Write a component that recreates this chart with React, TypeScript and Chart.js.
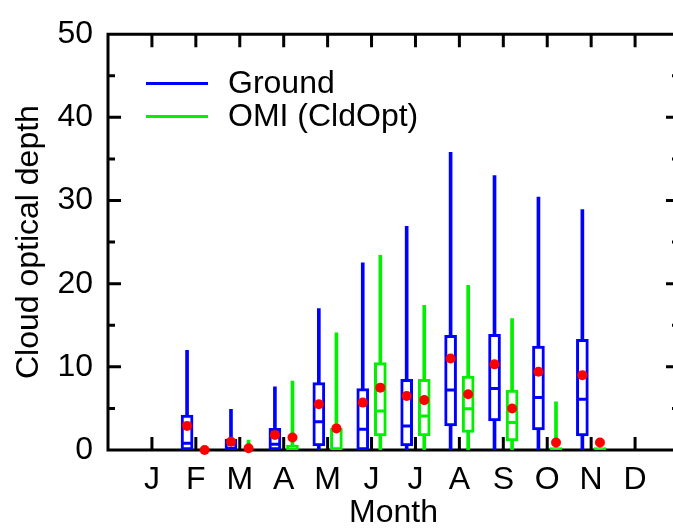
import React, { useEffect, useRef } from 'react';
import { Chart, registerables } from 'chart.js';

Chart.register(...registerables);

const months = ['J', 'F', 'M', 'A', 'M', 'J', 'J', 'A', 'S', 'O', 'N', 'D'];
const yTicks = [0, 10, 20, 30, 40, 50];

// Ground (blue) statistics per month (null = no data)
const groundMin = [null, 0, 0, 0, 0, 0, 0, 0, 0, 0, 0, null];
const groundQ1 = [null, 0, 0, 0, 0.5, 0, 0.5, 2.9, 3.5, 2.4, 1.7, null];
const groundMedian = [null, 0.8, 0.2, 0.7, 3.4, 2.5, 2.9, 7.2, 7.4, 6.3, 6.1, null];
const groundQ3 = [null, 4.2, 1.3, 2.6, 8.1, 7.4, 8.5, 13.8, 13.9, 12.5, 13.3, null];
const groundMax = [null, 12.0, 4.9, 7.6, 17.0, 22.5, 26.9, 35.8, 33.0, 30.4, 28.9, null];
const groundMean = [null, 2.9, 1.0, 1.8, 5.5, 5.7, 6.5, 11.0, 10.3, 9.4, 9.0, null];

// OMI (CldOpt) (green) statistics per month
const omiMin = [null, 0, 0, 0, 0, 0, 0, 0, 0, 0, 0, null];
const omiQ1 = [null, 0, 0, 0, 0, 1.7, 1.7, 2.1, 1.1, 0, 0, null];
const omiMedian = [null, 0, 0, 0, 0, 4.7, 4.1, 4.95, 3.3, 0, 0, null];
const omiQ3 = [null, 0, 0, 0.6, 2.6, 10.5, 8.5, 8.9, 7.2, 0.3, 0.3, null];
const omiMax = [null, 0, 1.2, 8.3, 14.1, 23.4, 17.4, 19.8, 15.8, 5.8, 0.3, null];
const omiMean = [null, 0.0, 0.2, 1.5, 2.6, 7.5, 6.0, 6.7, 5.0, 0.9, 0.9, null];

const BLUE = '#0000ff';
const GREEN = '#00f000';
const RED = '#ff0000';
const FONT = '"Liberation Sans", Arial, Helvetica, sans-serif';

const offsetGround = -0.2;
const offsetOmi = 0.2;

function floatData(lo: (number | null)[], hi: (number | null)[], off: number) {
  const out: any[] = [];
  lo.forEach((v, i) => {
    const h = hi[i];
    if (v === null || h === null) return;
    out.push({ x: i + 1 + off, y: [v, h] });
  });
  return out;
}

function pointData(vals: (number | null)[], off: number) {
  const out: any[] = [];
  vals.forEach((v, i) => {
    if (v === null) return;
    out.push({ x: i + 1 + off, y: v });
  });
  return out;
}

const framePlugin = {
  id: 'frame',
  beforeDatasetsDraw(chart: any) {
    const { ctx, chartArea } = chart;
    const x = chart.scales.x;
    const y = chart.scales.y;
    const l = chartArea.left, r = chartArea.right, t = chartArea.top, b = chartArea.bottom;
    ctx.save();
    ctx.strokeStyle = '#000';
    ctx.lineWidth = 3;
    ctx.lineCap = 'butt';
    ctx.beginPath();
    ctx.moveTo(l, t);
    ctx.lineTo(r, t);
    ctx.lineTo(r, b);
    ctx.lineTo(l, b);
    ctx.closePath();
    ctx.stroke();
    ctx.beginPath();
    months.forEach((_, i) => {
      const px = x.getPixelForValue(i + 1);
      ctx.moveTo(px, b);
      ctx.lineTo(px, b - 13);
      ctx.moveTo(px, t);
      ctx.lineTo(px, t + 13);
    });
    for (let v = 5; v < 50; v += 5) {
      const py = y.getPixelForValue(v);
      const len = v % 10 === 0 ? 13 : 7;
      ctx.moveTo(l, py);
      ctx.lineTo(l + len, py);
      ctx.moveTo(r, py);
      ctx.lineTo(r - len, py);
    }
    ctx.stroke();
    ctx.restore();
  },
  afterDatasetsDraw(chart: any) {
    const { ctx } = chart;
    ctx.save();
    ctx.lineWidth = 3;
    const items = [
      { label: 'Ground', color: BLUE, y: 83.5 },
      { label: 'OMI (CldOpt)', color: GREEN, y: 116.5 },
    ];
    ctx.font = `32px ${FONT}`;
    ctx.textBaseline = 'middle';
    ctx.textAlign = 'left';
    items.forEach((it) => {
      ctx.strokeStyle = it.color;
      ctx.beginPath();
      ctx.moveTo(146, it.y);
      ctx.lineTo(208, it.y);
      ctx.stroke();
      ctx.fillStyle = '#000';
      ctx.fillText(it.label, 228, it.y + 1);
    });
    ctx.restore();
  },
};

export default function App() {
  const ref = useRef<HTMLCanvasElement | null>(null);
  useEffect(() => {
    if (!ref.current) return;
    const whisker = (lo: any, hi: any, off: number, color: string) => ({
      type: 'bar' as const,
      data: floatData(lo, hi, off),
      backgroundColor: color,
      borderWidth: 0,
      barThickness: 3,
      grouped: false,
      order: 4,
    });
    const box = (lo: any, hi: any, off: number, color: string) => ({
      type: 'bar' as const,
      data: floatData(lo, hi, off),
      backgroundColor: '#ffffff',
      borderColor: color,
      borderWidth: 3,
      borderSkipped: false,
      barThickness: 12,
      grouped: false,
      order: 3,
    });
    const median = (vals: any, off: number, color: string) => ({
      type: 'line' as const,
      data: pointData(vals, off),
      showLine: false,
      pointStyle: 'line',
      pointRadius: 4.5,
      pointBorderColor: color,
      pointBorderWidth: 3,
      order: 2,
    });
    const mean = (vals: any, off: number) => ({
      type: 'line' as const,
      data: pointData(vals, off),
      showLine: false,
      pointStyle: 'circle',
      pointRadius: 5,
      pointBackgroundColor: RED,
      pointBorderWidth: 0,
      clip: false,
      order: 1,
    });
    const chart = new Chart(ref.current, {
      type: 'bar',
      data: {
        datasets: [
          whisker(groundMin, groundMax, offsetGround, BLUE),
          whisker(omiMin, omiMax, offsetOmi, GREEN),
          box(groundQ1, groundQ3, offsetGround, BLUE),
          box(omiQ1, omiQ3, offsetOmi, GREEN),
          median(groundMedian, offsetGround, BLUE),
          median(omiMedian, offsetOmi, GREEN),
          mean(groundMean, offsetGround),
          mean(omiMean, offsetOmi),
        ] as any,
      },
      options: {
        responsive: false,
        animation: false,
        layout: { padding: { left: 0, right: 11, top: 23, bottom: 0 } },
        plugins: { legend: { display: false }, tooltip: { enabled: false } },
        scales: {
          x: {
            type: 'linear',
            min: 0,
            max: 13,
            offset: false,
            grid: { display: false, drawTicks: false },
            border: { display: false },
            afterBuildTicks: (scale: any) => {
              scale.ticks = months.map((_, i) => ({ value: i + 1 }));
            },
            afterFit: (scale: any) => {
              scale.height = 81;
            },
            ticks: {
              autoSkip: false,
              maxRotation: 0,
              padding: 11,
              color: '#000',
              font: { family: FONT, size: 32 },
              callback: (v: any) => months[Math.round(v) - 1] ?? '',
            },
            title: {
              display: true,
              text: 'Month',
              color: '#000',
              font: { family: FONT, size: 32, lineHeight: 1.1 },
              padding: 0,
            },
          },
          y: {
            type: 'linear',
            min: 0,
            max: 50,
            grid: { display: false, drawTicks: false },
            border: { display: false },
            afterBuildTicks: (scale: any) => {
              scale.ticks = yTicks.map((v) => ({ value: v }));
            },
            afterFit: (scale: any) => {
              scale.width = 108;
            },
            ticks: {
              padding: 15,
              color: '#000',
              font: { family: FONT, size: 32 },
            },
            title: {
              display: true,
              text: 'Cloud optical depth',
              color: '#000',
              font: { family: FONT, size: 32, lineHeight: 1.2 },
              padding: { top: 10, bottom: 0 },
            },
          },
        },
      },
      plugins: [framePlugin],
    });
    return () => chart.destroy();
  }, []);
  return (
    <div
      style={{
        position: 'absolute',
        left: 0,
        top: 0,
        width: 673,
        height: 531,
        overflow: 'hidden',
        background: '#fff',
      }}
    >
      <canvas ref={ref} width={690} height={531} style={{ display: 'block' }} />
    </div>
  );
}
